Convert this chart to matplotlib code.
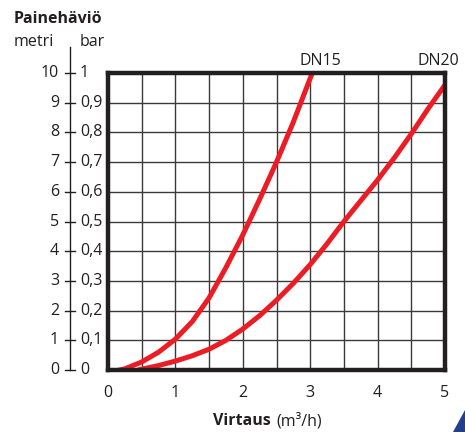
import matplotlib
matplotlib.use("Agg")
import matplotlib.pyplot as plt
from matplotlib import transforms
from matplotlib.patches import Polygon

plt.rcParams["font.family"] = ["Open Sans", "DejaVu Sans"]

# ======================================================
# DATA
# ======================================================

X_TICKS = [0, 1, 2, 3, 4, 5]
METRI_LABELS = ["0", "1", "2", "3", "4", "5", "6", "7", "8", "9", "10"]
BAR_LABELS = ["0", "0,1", "0,2", "0,3", "0,4", "0,5", "0,6", "0,7", "0,8", "0,9", "1"]
BAR_VALUES = [0, 0.1, 0.2, 0.3, 0.4, 0.5, 0.6, 0.7, 0.8, 0.9, 1.0]

# flow (m3/h) vs pressure loss (bar)
dn15_flow = [0.17, 0.25, 0.5, 0.75, 1.0, 1.25, 1.5, 1.75, 2.0, 2.25, 2.5, 2.75, 3.03]
dn15_loss = [0.0, 0.004, 0.027, 0.06, 0.104, 0.163, 0.243, 0.345, 0.455, 0.575, 0.7, 0.835, 1.0]

dn20_flow = [0.45, 0.5, 0.75, 1.0, 1.25, 1.5, 1.75, 2.0, 2.25, 2.5, 2.75,
             3.0, 3.25, 3.5, 3.75, 4.0, 4.25, 4.5, 4.75, 5.0]
dn20_loss = [0.0, 0.003, 0.015, 0.03, 0.048, 0.07, 0.1, 0.138, 0.183, 0.235, 0.292,
             0.355, 0.425, 0.5, 0.57, 0.64, 0.715, 0.795, 0.88, 0.96]

RED = "#ec1c24"
GRID = "#3a3a3a"
TEXT = "#231f20"
FS = 11.5

# ======================================================
# FIGURE
# ======================================================

fig = plt.figure(figsize=(4.65, 4.32), dpi=100)
W, H = 465, 432
ax = fig.add_axes([108 / W, (H - 370) / H, (445 - 108) / W, (370 - 73) / H])

ax.set_xlim(0, 5)
ax.set_ylim(0, 1)

# grid every 0.5 m3/h and every 0.1 bar
ax.xaxis.remove_overlapping_locs = False
ax.set_xticks([i * 0.5 for i in range(11)], minor=True)
ax.set_yticks(BAR_VALUES, minor=True)
ax.grid(which="minor", color=GRID, linewidth=1.0)
ax.set_axisbelow(True)

ax.set_xticks(X_TICKS)
ax.set_xticklabels([str(v) for v in X_TICKS], fontsize=FS, color=TEXT)
ax.set_yticks([])
ax.tick_params(axis="x", which="both", length=0, pad=11)
ax.tick_params(axis="y", which="both", length=0)

for s in ax.spines.values():
    s.set_linewidth(3.2)
    s.set_color(TEXT)

ax.plot(dn15_flow, dn15_loss, color=RED, linewidth=3.6, solid_joinstyle="round")
ax.plot(dn20_flow, dn20_loss, color=RED, linewidth=3.6, solid_joinstyle="round")

ax.text(3.15, 1.04, "DN15", ha="center", va="center", fontsize=FS, color=TEXT)
ax.text(4.9, 1.04, "DN20", ha="center", va="center", fontsize=FS, color=TEXT)

# ======================================================
# LEFT DOUBLE SCALE (metri | bar)
# ======================================================

blend = transforms.blended_transform_factory(fig.transFigure, ax.transData)
x_line = 70 / W
ax.plot([x_line, x_line], [0, 1.087], transform=blend, color=TEXT,
        linewidth=1.0, clip_on=False)
for val, m_lab, b_lab in zip(BAR_VALUES, METRI_LABELS, BAR_LABELS):
    ax.plot([65 / W, 75 / W], [val, val], transform=blend, color=TEXT,
            linewidth=1.0, clip_on=False)
    ax.text(59 / W, val, m_lab, transform=blend, ha="right", va="center",
            fontsize=FS, color=TEXT)
    ax.text(80 / W, val, b_lab, transform=blend, ha="left", va="center",
            fontsize=FS, color=TEXT)

fig.text(14 / W, 1 - 42 / H, "metri", ha="left", va="center", fontsize=FS, color=TEXT)
fig.text(80 / W, 1 - 42 / H, "bar", ha="left", va="center", fontsize=FS, color=TEXT)
fig.text(14 / W, 1 - 19 / H, "Painehäviö", ha="left", va="center", fontsize=FS,
         fontweight="bold", color=TEXT)

# x axis title
fig.text(271 / W, 1 - 421 / H, "Virtaus", ha="right", va="center", fontsize=FS,
         fontweight="bold", color=TEXT)
fig.text(276 / W, 1 - 421 / H, "(m³/h)", ha="left", va="center", fontsize=FS,
         color=TEXT)

# corner decoration
fig.patches.append(Polygon([[453 / W, 0], [1, 0], [1, 22 / H]], closed=True,
                           transform=fig.transFigure, facecolor="#233e8b",
                           edgecolor="none"))

fig.savefig("out.png", dpi=100)
